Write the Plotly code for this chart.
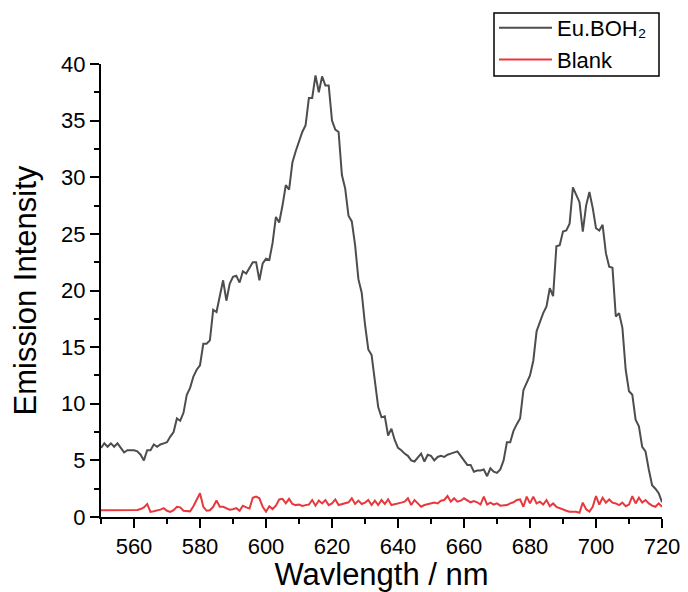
import plotly.graph_objects as go

wavelength = list(range(550, 721))

eu_boh2 = [
    6.1, 6.5, 6.2, 6.5, 6.2, 6.5, 6.1, 5.7, 5.9, 5.9,   # 550-559
    5.9, 5.8, 5.5, 5.0, 5.9, 5.9, 6.4, 6.2, 6.4, 6.5,   # 560-569
    6.6, 7.1, 7.5, 8.7, 8.5, 9.2, 10.8, 11.4, 12.4, 13.0,  # 570-579
    13.4, 15.3, 15.3, 15.6, 18.3, 18.1, 19.5, 20.9, 19.1, 20.6,  # 580-589
    21.2, 21.3, 20.7, 21.7, 21.5, 22.0, 22.5, 22.5, 20.9, 22.4,  # 590-599
    22.8, 22.7, 24.2, 26.5, 26.0, 27.5, 29.3, 28.9, 31.3, 32.3,  # 600-609
    33.2, 34.0, 34.6, 37.0, 37.0, 39.0, 37.5, 38.9, 38.1, 38.1,  # 610-619
    35.0, 34.2, 34.0, 30.2, 29.0, 26.6, 26.1, 24.0, 21.0, 19.8,  # 620-629
    17.0, 14.8, 14.3, 12.1, 9.7, 8.8, 8.9, 7.2, 7.8, 6.8,   # 630-639
    6.1, 5.9, 5.6, 5.4, 5.0, 4.9, 5.3, 5.6, 4.9, 5.5,   # 640-649
    5.4, 5.0, 5.3, 5.4, 5.3, 5.5, 5.6, 5.7, 5.8, 5.4,   # 650-659
    5.0, 4.6, 4.6, 4.0, 4.1, 4.1, 4.2, 3.6, 4.3, 4.0,   # 660-669
    3.9, 4.2, 5.0, 6.6, 6.6, 7.6, 8.2, 8.7, 11.2, 11.8,  # 670-679
    12.5, 13.8, 16.4, 17.2, 18.0, 18.6, 20.2, 19.5, 23.9, 24.0,  # 680-689
    25.2, 25.3, 25.9, 29.1, 28.5, 27.8, 25.2, 27.5, 28.7, 27.3,  # 690-699
    25.5, 25.3, 25.8, 23.3, 22.1, 22.0, 17.7, 18.0, 16.7, 13.0,  # 700-709
    11.1, 10.8, 8.6, 8.0, 6.2, 5.8, 4.2, 2.8, 2.5, 2.1,   # 710-719
    1.3,                                                  # 720
]

blank = [
    0.60, 0.60, 0.58, 0.58, 0.60, 0.62, 0.60, 0.58, 0.60, 0.60,  # 550-559
    0.62, 0.62, 0.70, 0.85, 1.15, 0.45, 0.50, 0.55, 0.65, 0.78,  # 560-569
    0.55, 0.45, 0.60, 0.90, 0.85, 0.55, 0.50, 0.50, 0.95, 1.50,  # 570-579
    2.10, 0.90, 0.55, 0.60, 0.90, 1.45, 0.90, 0.90, 0.75, 0.65,  # 580-589
    0.68, 0.78, 0.55, 1.00, 0.85, 0.75, 1.70, 1.80, 1.65, 0.90,  # 590-599
    0.47, 0.95, 0.70, 1.00, 1.55, 1.60, 1.20, 1.60, 1.15, 1.05,  # 600-609
    1.10, 0.97, 1.05, 1.10, 1.50, 1.00, 1.45, 1.20, 1.50, 1.05,  # 610-619
    1.20, 1.55, 1.06, 1.15, 1.20, 1.30, 1.65, 1.15, 1.45, 1.15,  # 620-629
    1.27, 1.50, 1.06, 1.44, 1.06, 1.50, 1.15, 1.56, 1.06, 1.15,  # 630-639
    1.20, 1.27, 1.35, 1.65, 1.06, 1.50, 1.20, 0.91, 1.06, 1.15,  # 640-649
    1.20, 1.27, 1.20, 1.44, 1.50, 1.85, 1.35, 1.65, 1.35, 1.44,  # 650-659
    1.65, 1.50, 1.30, 1.40, 1.30, 1.10, 1.80, 1.10, 1.27, 1.10,  # 660-669
    1.20, 1.00, 1.05, 1.05, 1.20, 1.30, 1.50, 1.55, 0.90, 1.80,  # 670-679
    1.20, 1.80, 1.20, 1.35, 1.10, 1.50, 0.95, 1.20, 0.90, 0.77,  # 680-689
    0.65, 0.55, 0.47, 0.47, 0.47, 0.38, 1.27, 0.68, 0.47, 0.90,  # 690-699
    1.85, 1.10, 1.70, 1.27, 1.55, 1.27, 1.20, 1.05, 1.27, 0.95,  # 700-709
    1.10, 1.85, 1.20, 1.70, 1.27, 1.50, 1.20, 1.00, 0.90, 1.20,  # 710-719
    0.90,                                                         # 720
]

x_ticks = [560, 580, 600, 620, 640, 660, 680, 700, 720]
y_ticks = [0, 5, 10, 15, 20, 25, 30, 35, 40]

fig = go.Figure()
fig.add_trace(go.Scatter(x=wavelength, y=eu_boh2, mode="lines", name="Eu.BOH₂",
                         line=dict(color="#4d4d4d", width=2)))
fig.add_trace(go.Scatter(x=wavelength, y=blank, mode="lines", name="Blank",
                         line=dict(color="#e8383d", width=2)))

FAM = "Liberation Sans, Arial, sans-serif"
axis_font = dict(family=FAM, size=22, color="black")
title_font = dict(family=FAM, size=31, color="black")

# plot area: 101..662 px horizontally (561), 64..517 px vertically (453)
PW, PH = 561.0, 453.0

fig.update_layout(
    width=688, height=592,
    margin=dict(l=101, r=26, t=64, b=75, autoexpand=False),
    plot_bgcolor="white", paper_bgcolor="white",
    showlegend=True,
    legend=dict(x=(494 - 101) / PW, y=(517 - 7) / PH, xanchor="left", yanchor="top",
                borderwidth=0, bgcolor="rgba(0,0,0,0)",
                font=dict(family=FAM, size=22, color="black"),
                tracegroupgap=0, itemwidth=53),
    shapes=[dict(type="rect", xref="paper", yref="paper",
                 x0=(494 - 101) / PW, x1=(659 - 101) / PW,
                 y0=(517 - 76) / PH, y1=(517 - 13) / PH,
                 line=dict(color="black", width=1.5), fillcolor="rgba(0,0,0,0)", layer="above")],
    annotations=[dict(text="Emission Intensity", xref="paper", yref="paper",
                      x=(25 - 101) / PW, y=0.5, xanchor="center", yanchor="middle",
                      textangle=-90, showarrow=False, font=title_font)],
    xaxis=dict(range=[550, 720], tickvals=x_ticks, ticktext=[str(v) for v in x_ticks],
               automargin=False,
               showgrid=False, zeroline=False, showline=True, linecolor="black", linewidth=2,
               ticks="outside", ticklen=9, tickwidth=2, tickcolor="black",
               tickfont=axis_font,
               minor=dict(dtick=10, tick0=550, ticks="outside", ticklen=5, tickwidth=2, tickcolor="black", showgrid=False),
               title=dict(text="Wavlength / nm", font=title_font, standoff=4)),
    yaxis=dict(range=[0, 40], tickvals=y_ticks, ticktext=[str(v) for v in y_ticks],
               automargin=False,
               showgrid=False, zeroline=False, showline=True, linecolor="black", linewidth=2,
               ticks="outside", ticklen=9, tickwidth=2, tickcolor="black",
               tickfont=axis_font,
               minor=dict(dtick=2.5, tick0=0, ticks="outside", ticklen=5, tickwidth=2, tickcolor="black", showgrid=False)),
)

fig.write_html("out.html")
